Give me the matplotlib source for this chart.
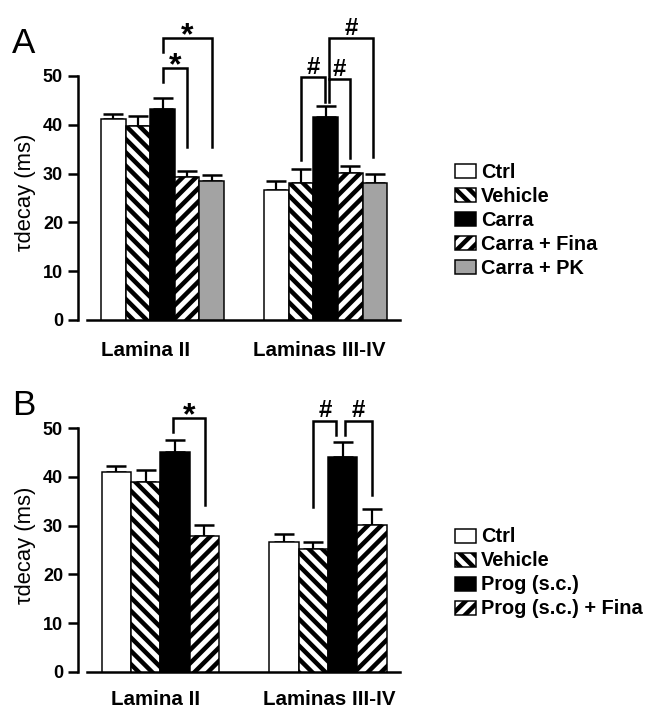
import numpy as np
import matplotlib
matplotlib.use("Agg")
import matplotlib.pyplot as plt

# Figure drawn at a low dpi so the hatch spacing (fixed per inch) matches the
# tight stripes of the original; every size below is given in pixels.
W, H, DPI = 655, 711, 80
PT = 72 / DPI

plt.rcParams["font.family"] = ["Liberation Sans", "DejaVu Sans"]
plt.rcParams["hatch.linewidth"] = 4.5 * PT
plt.rcParams["hatch.color"] = "black"

regions = ["Lamina II", "Laminas III-IV"]

# Panel A: carrageenan series (mean, upper SEM)
a_labels = ["Ctrl", "Vehicle", "Carra", "Carra + Fina", "Carra + PK"]
a_lam2_mean = [41.2, 39.7, 43.3, 29.3, 28.4]
a_lam2_sem = [1.1, 2.1, 2.1, 1.2, 1.4]
a_lam34_mean = [26.7, 28.0, 41.5, 30.1, 28.0]
a_lam34_sem = [1.7, 2.9, 2.4, 1.4, 1.9]

# Panel B: progesterone series
b_labels = ["Ctrl", "Vehicle", "Prog (s.c.)", "Prog (s.c.) + Fina"]
b_lam2_mean = [41.1, 38.9, 45.1, 27.9]
b_lam2_sem = [1.2, 2.5, 2.4, 2.3]
b_lam34_mean = [26.7, 25.3, 44.2, 30.1]
b_lam34_sem = [1.6, 1.4, 2.9, 3.3]

# significance brackets: region, bar from, bar to, top, left leg end, right leg end, mark
a_sig = [(0, 2, 3, 51.6, 48.8, 35.5, "*"),
         (0, 2, 4, 57.7, 55.0, 35.5, "*"),
         (1, 1, 2, 49.7, 32.8, 44.7, "#"),
         (1, 2, 3, 49.4, 44.7, 33.2, "#"),
         (1, 2, 4, 57.7, 49.4, 33.5, "#")]
b_sig = [(0, 2, 3, 52.1, 49.3, 34.2, "*"),
         (1, 1, 2, 51.6, 33.9, 48.6, "#"),
         (1, 2, 3, 51.6, 48.6, 36.3, "#")]

# fill, hatch per treatment (same order in both panels)
STYLES = [("white", None), ("white", "\\\\"), ("black", None),
          ("white", "//"), ("#a3a3a3", None)]


def px(v):
    return v * PT


def draw_panel(ax, labels, means, sems, sig, group_left, xmax, label_x,
               label_pad, leg_xy, sig_dx):
    for i, lab in enumerate(labels):
        fc, hatch = STYLES[i]
        xs = [group_left[g] + i + 0.5 for g in range(2)]
        hs = [means[g][i] for g in range(2)]
        es = [sems[g][i] for g in range(2)]
        ax.errorbar(xs, hs, yerr=[np.zeros(2), es], fmt="none", ecolor="black",
                    elinewidth=px(2.2), capsize=px(10), capthick=px(2.5),
                    zorder=2)
        ax.bar(xs, hs, width=1.0, color=fc, hatch=hatch, edgecolor="black",
               linewidth=px(1.5), label=lab, zorder=3)

    for k, (g, i1, i2, top, y1, y2, mark) in enumerate(sig):
        d1, d2 = sig_dx[k]
        x1 = group_left[g] + i1 + 0.5 + d1
        x2 = group_left[g] + i2 + 0.5 + d2
        ax.plot([x1, x1, x2, x2], [y1, top, top, y2], color="black",
                lw=px(2.5), clip_on=False, solid_joinstyle="miter", zorder=4)
        if mark == "*":
            ax.text((x1 + x2) / 2, top - 1.2, mark, ha="center", va="baseline",
                    fontsize=px(32), fontweight="bold", clip_on=False)
        else:
            ax.text((x1 + x2) / 2, top + 0.7, mark, ha="center", va="baseline",
                    fontsize=px(24), fontweight="bold", clip_on=False)

    # spine position first: moving a spine rebuilds the tick objects
    for s in ("top", "right"):
        ax.spines[s].set_visible(False)
    ax.spines["left"].set_position(("outward", px(9)))
    for s in ("left", "bottom"):
        ax.spines[s].set_linewidth(px(2.5))

    ax.set_xlim(0, xmax)
    ax.set_ylim(0, 50)
    ax.tick_params(axis="x", length=0, pad=px(label_pad))
    ax.tick_params(axis="y", direction="out", length=px(10), width=px(2.5),
                   pad=px(5))
    yt = list(range(0, 51, 10))
    ax.set_yticks(yt, labels=[str(v) for v in yt], fontsize=px(18),
                  fontweight="bold")
    ax.set_xticks(label_x, labels=regions, fontsize=px(20.5), fontweight="bold")
    ax.set_facecolor("none")

    ax.legend(loc="center left", bbox_to_anchor=(leg_xy[0] / W, 1 - leg_xy[1] / H),
              bbox_transform=ax.figure.transFigure, frameon=False, borderpad=0,
              borderaxespad=0, prop={"weight": "bold", "size": px(20)},
              handlelength=1.05, handleheight=0.7, handletextpad=0.25,
              labelspacing=0.25)


fig = plt.figure(figsize=(W / DPI, H / DPI), dpi=DPI)

ax_a = fig.add_axes([87 / W, (H - 320) / H, 313 / W, 244 / H])
draw_panel(ax_a, a_labels, [a_lam2_mean, a_lam34_mean], [a_lam2_sem, a_lam34_sem],
           a_sig, group_left=[0.57, 7.2], xmax=12.72, label_x=[2.40, 9.43],
           label_pad=21, leg_xy=(455, 220.7),
           sig_dx=[(0, 0), (0, 0), (0, -0.03), (0.12, 0), (0.14, -0.08)])

ax_b = fig.add_axes([87 / W, (H - 671.7) / H, 313 / W, 243.4 / H])
draw_panel(ax_b, b_labels, [b_lam2_mean, b_lam34_mean], [b_lam2_sem, b_lam34_sem],
           b_sig, group_left=[0.50, 6.22], xmax=10.68, label_x=[2.355, 8.26],
           label_pad=18.5, leg_xy=(455, 573),
           sig_dx=[(-0.05, 0.01), (0, -0.21), (0.09, 0)])

for lab, top in (("A", 53), ("B", 415)):
    fig.text(12 / W, 1 - top / H, lab, fontsize=px(35), ha="left", va="baseline")

for yc in (192, 545):
    fig.text(25 / W, 1 - yc / H, "τdecay (ms)", rotation=90, fontsize=px(22),
             ha="center", va="center")

fig.savefig("out.png", dpi=DPI, facecolor="white")
